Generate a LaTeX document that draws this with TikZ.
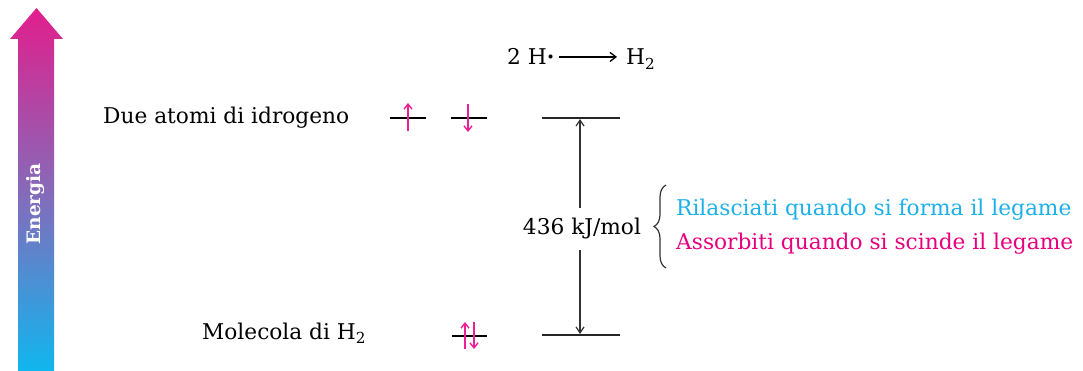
\documentclass[tikz,border=0pt]{standalone}
\usepackage{fontspec}
\setmainfont{DejaVu Serif}
\usetikzlibrary{arrows.meta,decorations.pathreplacing}
\definecolor{cyanE}{RGB}{29,176,232}
\definecolor{magE}{RGB}{230,0,126}
\definecolor{spinC}{RGB}{240,30,150}
\definecolor{arrTop}{RGB}{226,30,140}
\definecolor{arrMid}{RGB}{135,105,185}
\definecolor{arrBot}{RGB}{16,182,238}
\begin{document}
\begin{tikzpicture}[x=1pt,y=-1pt,
  font=\fontsize{21.7}{26}\selectfont,
  txt/.style={inner sep=0pt, anchor=base west},
  lvl/.style={line width=1.6pt, black!85},
  shortlvl/.style={line width=2.5pt},
  spin/.style={spinC, line width=1.4pt, -{Straight Barb[length=5pt,width=8pt]}},
  vline/.style={line width=1.2pt, black!80, -{Straight Barb[length=6pt,width=8pt]}},
  tarrow/.style={line width=1.3pt, -{Straight Barb[length=6pt,width=9pt]}}]
\useasboundingbox (0,0) rectangle (1083,371);
% energy arrow
\shade[top color=arrTop, bottom color=arrBot, middle color=arrMid]
  (18,371) -- (18,39) -- (10,39) -- (36.5,8) -- (63,39) -- (54,39) -- (54,371) -- cycle;
\node[rotate=90, white, font=\fontsize{18.5}{22}\selectfont\bfseries] (en) at (36,204) {Energia};
% title
\node[txt] (h) at (507,65) {2 H{\bfseries·}};
\node[txt] (h2) at (626,65) {H\textsubscript{2}};
\draw[tarrow] ([xshift=4pt]h.east) -- ([xshift=-9pt]h.east -| h2.west);
% labels
\node[txt] (due) at (103,124) {Due atomi di idrogeno};
\node[txt] (mol) at (202,339) {Molecola di H\textsubscript{2}};
% upper levels
\coordinate (a1) at (390,118); \coordinate (a2) at (426,118);
\coordinate (b1) at (451,118); \coordinate (b2) at (487,118);
\coordinate (c1) at (542,118); \coordinate (c2) at (620,118);
\draw[shortlvl] (a1) -- (a2);
\draw[shortlvl] (b1) -- (b2);
\draw[lvl] (c1) -- (c2);
\coordinate (s1a) at (408,131); \coordinate (s1b) at (408,103);
\coordinate (s2a) at (468,104); \coordinate (s2b) at (468,132);
\draw[spin] (s1a) -- (s1b);
\draw[spin] (s2a) -- (s2b);
% lower levels
\coordinate (d1) at (452,336); \coordinate (d2) at (487,336);
\coordinate (e1) at (542,335); \coordinate (e2) at (620,335);
\draw[shortlvl] (d1) -- (d2);
\draw[lvl] (e1) -- (e2);
\coordinate (s3a) at (465,349); \coordinate (s3b) at (465,322);
\coordinate (s4a) at (474,322); \coordinate (s4b) at (474,349);
\draw[spin] (s3a) -- (s3b);
\draw[spin] (s4a) -- (s4b);
% energy gap
\coordinate (ctop) at (580,119);
\coordinate (cbot) at (580,334);
\node[anchor=base, inner xsep=0pt, inner ysep=10pt] (val) at (582,235) {436 kJ/mol};
\draw[vline] (val.north -| ctop) -- (ctop);
\draw[vline] (val.south -| cbot) -- (cbot);
% brace
\coordinate (br1) at (666,268);
\coordinate (br2) at (666,185);
\draw[decorate, decoration={brace, amplitude=12pt}, line width=1.2pt, black!80] (br1) -- (br2);
\node[txt, cyanE] (ril) at (676,216) {Rilasciati quando si forma il legame};
\node[txt, magE] (ass) at (676,250) {Assorbiti quando si scinde il legame};
\end{tikzpicture}
\end{document}
